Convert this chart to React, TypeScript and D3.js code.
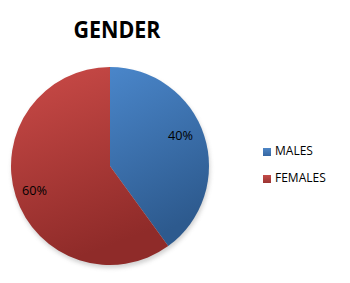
import React from "react";
import * as d3 from "d3";

const categories = ["MALES", "FEMALES"];
const values = [40, 60];
const labels = ["40%", "60%"];
const title = "GENDER";

const W = 350, H = 283;
const cx = 110, cy = 166, r = 99;

export default function App() {
  const pie = d3.pie<number>().sort(null).value(d => d)(values);
  const arc = d3.arc<d3.PieArcDatum<number>>().innerRadius(0).outerRadius(r);
  const labelArc = d3.arc<d3.PieArcDatum<number>>().innerRadius(r * 0.75).outerRadius(r * 0.75);
  const fills = ["url(#gBlue)", "url(#gRed)"];
  const sw = ["url(#sBlue)", "url(#sRed)"];
  const legendY = d3.scalePoint<string>().domain(categories).range([152, 179]);
  const labelOffsets = [[0, -6], [-5, 3]];
  return (
    <svg width={W} height={H} style={{ position: "absolute", left: 0, top: 0, background: "#fff" }}>
      <defs>
        <linearGradient id="gBlue" x1="0" y1="0" x2="0.3" y2="1">
          <stop offset="0" stopColor="#4A86CA" />
          <stop offset="1" stopColor="#2D5A8E" />
        </linearGradient>
        <linearGradient id="gRed" x1="0" y1="0" x2="0.3" y2="1">
          <stop offset="0" stopColor="#CB4B48" />
          <stop offset="1" stopColor="#8F2B29" />
        </linearGradient>
        <linearGradient id="sBlue" x1="0" y1="0" x2="0" y2="1">
          <stop offset="0" stopColor="#4E86C6" />
          <stop offset="1" stopColor="#3566A2" />
        </linearGradient>
        <linearGradient id="sRed" x1="0" y1="0" x2="0" y2="1">
          <stop offset="0" stopColor="#C44C49" />
          <stop offset="1" stopColor="#9B3432" />
        </linearGradient>
        <filter id="blur" x="-20%" y="-20%" width="140%" height="140%">
          <feGaussianBlur stdDeviation="2" />
        </filter>
      </defs>
      <text x={117} y={38} textAnchor="middle" fontFamily="'Open Sans', sans-serif" fontWeight="bold"
        fontSize={24} textLength={87} lengthAdjust="spacingAndGlyphs" fill="#000">{title}</text>
      <ellipse cx={cx + 1} cy={cy + 3} rx={r} ry={r} fill="#999" opacity={0.45} filter="url(#blur)" />
      <g transform={`translate(${cx},${cy})`}>
        {pie.map((p, i) => (
          <path key={categories[i]} d={arc(p) || ""} fill={fills[i]} />
        ))}
        {pie.map((p, i) => {
          const [lx, ly] = labelArc.centroid(p);
          return (
            <text key={"l" + i} x={lx + labelOffsets[i][0]} y={ly + labelOffsets[i][1]}
              textAnchor="middle" dominantBaseline="middle" fontFamily="'Open Sans', sans-serif" fontSize={12}
              textLength={25} lengthAdjust="spacingAndGlyphs" fill="#000">
              {labels[i]}
            </text>
          );
        })}
      </g>
      {categories.map((c, i) => (
        <g key={c} transform={`translate(263,${legendY(c)})`}>
          <rect x={0} y={-4} width={8} height={8} fill={sw[i]} />
          <text x={12} y={0} dominantBaseline="middle" fontFamily="'Open Sans', sans-serif" fontSize={12} fill="#000">{c}</text>
        </g>
      ))}
    </svg>
  );
}
